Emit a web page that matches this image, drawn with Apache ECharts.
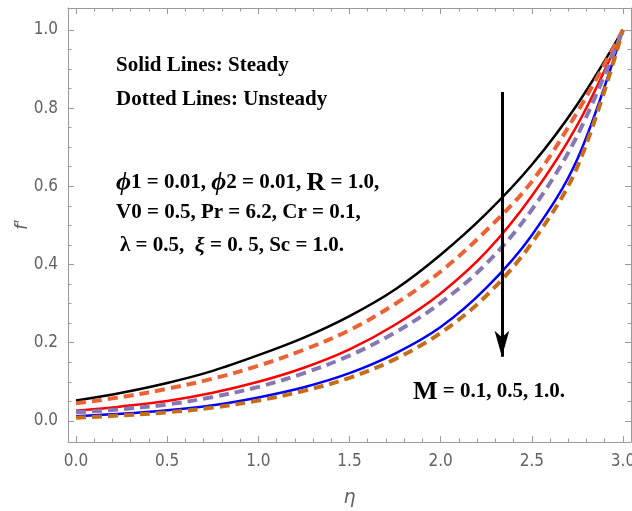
<!DOCTYPE html>
<html>
<head>
<meta charset="utf-8">
<script src="https://cdn.jsdelivr.net/npm/echarts@6/dist/echarts.min.js"></script>
<style>
  html, body { margin: 0; padding: 0; background: #fff; }
  #chart { width: 632px; height: 511px; }
</style>
</head>
<body>
<div id="chart"></div>
<script>
// Similarity variable eta
const eta = [0, 0.25, 0.5, 0.75, 1.0, 1.25, 1.5, 1.75, 2.0, 2.25, 2.5, 2.75, 3.0];

// Velocity profiles f'(eta): steady (solid) and unsteady (dashed) for M = 0.1, 0.5, 1.0
const steadyM01   = [0.052, 0.072, 0.097, 0.128, 0.168, 0.213, 0.268, 0.336, 0.425, 0.530, 0.655, 0.810, 1.0];
const unsteadyM01 = [0.045, 0.061, 0.082, 0.108, 0.141, 0.182, 0.232, 0.299, 0.382, 0.487, 0.612, 0.790, 1.0];
const steadyM05   = [0.026, 0.037, 0.051, 0.072, 0.100, 0.136, 0.183, 0.246, 0.326, 0.432, 0.575, 0.757, 1.0];
const unsteadyM05 = [0.022, 0.030, 0.042, 0.061, 0.087, 0.122, 0.167, 0.226, 0.302, 0.402, 0.540, 0.730, 1.0];
const steadyM10   = [0.012, 0.018, 0.027, 0.040, 0.060, 0.086, 0.122, 0.172, 0.240, 0.340, 0.475, 0.670, 1.0];
const unsteadyM10 = [0.008, 0.014, 0.022, 0.034, 0.052, 0.077, 0.110, 0.158, 0.225, 0.320, 0.455, 0.650, 1.0];

// Tick positions
const xMajor = [0, 0.5, 1.0, 1.5, 2.0, 2.5, 3.0];
const xMinor = [0, 0.1, 0.2, 0.3, 0.4, 0.5, 0.6, 0.7, 0.8, 0.9, 1.0, 1.1, 1.2, 1.3, 1.4, 1.5,
                1.6, 1.7, 1.8, 1.9, 2.0, 2.1, 2.2, 2.3, 2.4, 2.5, 2.6, 2.7, 2.8, 2.9, 3.0];
const yMajor = [0, 0.2, 0.4, 0.6, 0.8, 1.0];
const yMinor = [0, 0.05, 0.1, 0.15, 0.2, 0.25, 0.3, 0.35, 0.4, 0.45, 0.5, 0.55, 0.6, 0.65,
                0.7, 0.75, 0.8, 0.85, 0.9, 0.95, 1.0];

// Arrow showing the effect of increasing M
const arrowX = 2.336;
const arrowFrom = 0.841;
const arrowTo = 0.164;

const X_MIN = -0.044, X_MAX = 3.044, Y_MIN = -0.054, Y_MAX = 1.056;
const frameColor = '#9a9a9a';
const labelColor = '#626262';
const tickFont = '"Liberation Sans Narrow", "DejaVu Sans Condensed", "Liberation Sans", sans-serif';
const serif = '"Liberation Serif", "Times New Roman", serif';

const pairs = ys => eta.map((x, i) => [x, ys[i]]);

function xAxisDef(pos, values, len, showLine, showLabel) {
  return {
    type: 'value', position: pos, min: X_MIN, max: X_MAX,
    axisLine: { show: showLine, onZero: false, lineStyle: { color: frameColor, width: 1 } },
    axisTick: { show: true, inside: true, length: len, customValues: values,
                lineStyle: { color: frameColor, width: 1 } },
    axisLabel: showLabel ? {
      show: true, customValues: values, margin: 11, color: labelColor,
      fontFamily: tickFont, fontSize: 17,
      formatter: v => v.toFixed(1)
    } : { show: false },
    splitLine: { show: false }
  };
}
function yAxisDef(pos, values, len, showLine, showLabel) {
  return {
    type: 'value', position: pos, min: Y_MIN, max: Y_MAX,
    axisLine: { show: showLine, onZero: false, lineStyle: { color: frameColor, width: 1 } },
    axisTick: { show: true, inside: true, length: len, customValues: values,
                lineStyle: { color: frameColor, width: 1 } },
    axisLabel: showLabel ? {
      show: true, customValues: values, margin: 10, color: labelColor,
      fontFamily: tickFont, fontSize: 17,
      formatter: v => v.toFixed(1)
    } : { show: false },
    splitLine: { show: false }
  };
}

const xAxes = [
  xAxisDef('bottom', xMajor, 6, true, true),
  xAxisDef('bottom', xMinor, 3.5, false, false),
  xAxisDef('top', xMajor, 6, true, false),
  xAxisDef('top', xMinor, 3.5, false, false)
];
Object.assign(xAxes[0], {
  name: 'η', nameLocation: 'middle', nameGap: 47, nameMoveOverlap: false,
  nameTextStyle: { color: labelColor, fontStyle: 'italic', fontSize: 19, fontFamily: '"DejaVu Sans", sans-serif' }
});
const yAxes = [
  yAxisDef('left', yMajor, 6, true, true),
  yAxisDef('left', yMinor, 3.5, false, false),
  yAxisDef('right', yMajor, 6, true, false),
  yAxisDef('right', yMinor, 3.5, false, false)
];
Object.assign(yAxes[0], {
  name: 'f′', nameLocation: 'middle', nameGap: 37, nameMoveOverlap: false,
  nameTextStyle: { color: labelColor, fontStyle: 'italic', fontSize: 19, fontFamily: '"Liberation Sans", sans-serif' }
});

function solid(name, ys, color) {
  return { name, type: 'line', data: pairs(ys), smooth: 0.35, showSymbol: false, silent: true,
           lineStyle: { color, width: 2.5 }, z: 3 };
}
function dashed(name, ys, color) {
  return { name, type: 'line', data: pairs(ys), smooth: 0.35, showSymbol: false, silent: true,
           lineStyle: { color, width: 4, type: [10, 6], cap: 'butt' }, z: 4 };
}

const series = [
  solid('Steady M=0.1', steadyM01, '#000000'),
  dashed('Unsteady M=0.1', unsteadyM01, '#EB6235'),
  solid('Steady M=0.5', steadyM05, '#FF0000'),
  dashed('Unsteady M=0.5', unsteadyM05, '#8778B3'),
  solid('Steady M=1.0', steadyM10, '#0000FF'),
  dashed('Unsteady M=1.0', unsteadyM10, '#C56E1A')
];
series[0].markLine = {
  silent: true, symbol: ['none', 'arrow'], symbolSize: [11, 26],
  label: { show: false },
  lineStyle: { color: '#000', width: 3, type: 'solid' },
  data: [[{ coord: [arrowX, arrowFrom] }, { coord: [arrowX, arrowTo] }]]
};

const txt = (x, y, text, rich) => ({
  type: 'text', x, y, silent: true,
  style: { text, fill: '#000', font: 'bold 21px ' + serif, verticalAlign: 'middle', rich }
});
const richParams = {
  phi: { fontFamily: serif, fontWeight: 'bold', fontStyle: 'italic', fontSize: 26, fill: '#000' },
  big: { fontFamily: serif, fontWeight: 'bold', fontSize: 26, fill: '#000' },
  sym: { fontFamily: serif, fontWeight: 'bold', fontSize: 21, fill: '#000' },
  it:  { fontFamily: serif, fontWeight: 'bold', fontStyle: 'italic', fontSize: 22, fill: '#000' }
};

const chart = echarts.init(document.getElementById('chart'), null, { renderer: 'canvas' });
chart.setOption({
  animation: false,
  backgroundColor: '#fff',
  grid: { left: 68, right: 1, top: 8, bottom: 69, containLabel: false, outerBoundsMode: 'none' },
  xAxis: xAxes,
  yAxis: yAxes,
  series,
  graphic: [
    txt(116, 66, 'Solid Lines: Steady'),
    txt(116, 100, 'Dotted Lines: Unsteady'),
    txt(116, 183, '{phi|ϕ}1 = 0.01, {phi|ϕ}2 = 0.01, {big|R} = 1.0,', richParams),
    txt(116, 213, 'V0 = 0.5, Pr = 6.2, Cr = 0.1,'),
    txt(120, 246, '{sym|λ} = 0.5,  {it|ξ} = 0. 5, Sc = 1.0.', richParams),
    txt(413, 392, '{big|M} = 0.1, 0.5, 1.0.', richParams)
  ]
});
</script>
</body>
</html>
